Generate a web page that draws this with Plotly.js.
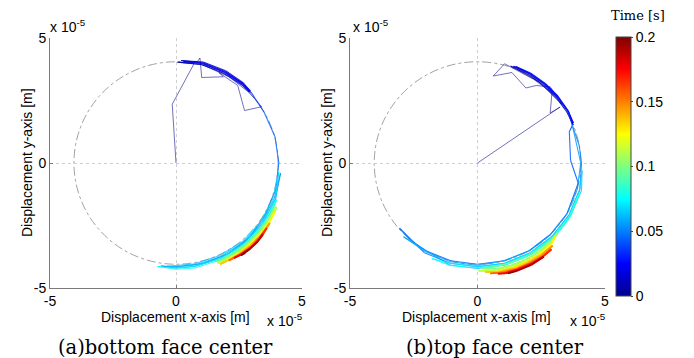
<!DOCTYPE html>
<html>
<head>
<meta charset="utf-8">
<script src="https://cdn.plot.ly/plotly-3.0.1.min.js"></script>
<style>html,body{margin:0;padding:0;background:#fff;}#chart{width:694px;height:358px;}</style>
</head>
<body>
<div id="chart"></div>
<script>
// ---- data (displacement in units of 1e-5 m, time in s) ----
const refRadius = 4.05;
const axisTicks = [-5, 0, 5];
const axisTickText = ['-5', '0', '5'];
const cbarTicks = [0, 0.05, 0.1, 0.15, 0.2];
const cbarTickText = ['0', '0.05', '0.1', '0.15', '0.2'];
const captions = ['(a)bottom face center', '(b)top face center'];

// (a) bottom face center
const leftX = [
  0, -0.15, 0.72, 0.05, 0.85, 0.95, 1.02, 1.88, 1.7, 2.45, 2.72, 3.4, 2.9, 2.1, 1.0, 0.1,
  1.05, 1.91, 2.62, 2.92,  2.66, 1.95, 1.07, 0.2,  1.08, 1.97, 2.68, 2.95,  2.65, 1.94, 1.06, 0.3,  1.06, 1.93, 2.64, 3.0,
  3.5, 3.93, 4.08, 3.96, 3.55, 2.95, 2.1, 1.08, 0, -0.6,
  0, 0.73, 1.78, 2.70, 3.44, 3.95, 4.15,
  3.90, 3.40, 2.67, 1.75, 0.72, 0, -0.36,
  0, 0.71, 1.73, 2.64, 3.36, 3.85, 4.08,
  3.95, 3.44, 2.70, 1.78, 0.73, 0, -0.73,
  0, 0.74, 1.8, 2.73, 3.48, 3.99,
  3.88, 3.60, 3.26, 2.84, 2.38, 1.86, 1.59,
  1.88, 2.40, 2.88, 3.29, 3.65, 3.93,
  4.0, 3.69, 3.33, 2.91, 2.43, 2.04, 1.65,
  2.04, 2.45, 2.93, 3.36, 3.72, 3.95,
  3.66, 3.39, 2.96, 2.47, 2.0, 1.75,
  2.21, 2.47, 2.96, 3.39, 3.72,
  3.45, 3.0, 2.5, 2.1,
  2.5, 2.95, 3.3, 3.6,
  3.35, 2.95, 2.55, 2.3,
  2.6, 2.92, 3.24, 3.45,
  3.24, 2.89, 2.58, 2.75
];
const leftY = [
  0, 2.35, 3.98, 4.03, 4.06, 4.2, 3.42, 3.45, 3.62, 3.1, 2.1, 2.25, 2.82, 3.45, 3.95, 4.03,
  3.93, 3.58, 3.12, 2.84,  3.17, 3.66, 4.01, 4.1,  4.04, 3.69, 3.2, 2.88,  3.17, 3.63, 3.97, 4.06,  3.99, 3.62, 3.15, 2.8,
  2.02, 1.05, 0, -1.06, -2.05, -2.95, -3.62, -4.02, -4.15, -4.12,
  -4.2, -4.14, -3.81, -3.22, -2.41, -1.44, -0.4,
  -1.42, -2.38, -3.18, -3.76, -4.09, -4.15, -4.13,
  -4.1, -4.04, -3.71, -3.14, -2.35, -1.40, -0.36,
  -1.44, -2.41, -3.22, -3.81, -4.14, -4.2, -4.14,
  -4.25, -4.2, -3.86, -3.26, -2.44, -1.46,
  -1.73, -2.25, -2.73, -3.16, -3.52, -3.82, -3.94,
  -3.87, -3.56, -3.19, -2.76, -2.28, -1.75,
  -1.79, -2.31, -2.80, -3.23, -3.61, -3.84, -4.02,
  -3.86, -3.63, -3.25, -2.82, -2.33, -1.9,
  -2.47, -2.84, -3.28, -3.66, -3.92, -4.05,
  -3.83, -3.66, -3.3, -2.86, -2.4,
  -2.87, -3.32, -3.68, -3.9,
  -3.7, -3.38, -3.0, -2.6,
  -3.0, -3.4, -3.67, -3.8,
  -3.66, -3.45, -3.13, -2.85,
  -3.15, -3.47, -3.69, -3.6
];
const leftT = [
  0, 0.0005, 0.001, 0.0015, 0.002, 0.0025, 0.003, 0.0035, 0.004, 0.0045, 0.005, 0.0055, 0.006, 0.0065, 0.007, 0.0075,
  0.008, 0.009, 0.010, 0.011,  0.012, 0.013, 0.014, 0.015,  0.016, 0.017, 0.018, 0.019,  0.020, 0.021, 0.022, 0.023,  0.024, 0.025, 0.026, 0.028,
  0.044, 0.0445, 0.045, 0.0455, 0.046, 0.0465, 0.047, 0.048, 0.049, 0.050,
  0.051, 0.052, 0.053, 0.054, 0.055, 0.0555, 0.056,
  0.057, 0.058, 0.059, 0.060, 0.061, 0.0615, 0.062,
  0.063, 0.064, 0.065, 0.066, 0.067, 0.0675, 0.068,
  0.069, 0.070, 0.071, 0.072, 0.073, 0.0735, 0.074,
  0.075, 0.076, 0.077, 0.078, 0.079, 0.080,
  0.082, 0.084, 0.086, 0.088, 0.090, 0.092, 0.094,
  0.096, 0.098, 0.100, 0.102, 0.104, 0.106,
  0.107, 0.108, 0.110, 0.111, 0.112, 0.113, 0.115,
  0.116, 0.118, 0.120, 0.122, 0.123, 0.125,
  0.127, 0.128, 0.130, 0.132, 0.134, 0.135,
  0.137, 0.138, 0.140, 0.142, 0.145,
  0.147, 0.150, 0.152, 0.155,
  0.157, 0.160, 0.162, 0.165,
  0.167, 0.170, 0.172, 0.175,
  0.177, 0.180, 0.182, 0.185,
  0.188, 0.192, 0.196, 0.200
];

// (b) top face center
const rightX = [
  0, 3.24, 2.85, 2.92, 2.2, 1.06, 0.62, 1.35, 1.9, 2.3, 2.85, 3.3, 2.4, 1.3,
  2.03, 2.60, 3.10, 3.51, 3.75,  3.57, 3.16, 2.65, 2.06, 1.41,  2.05, 2.63, 3.13, 3.55, 3.76,  3.55, 3.15, 2.66, 2.08, 1.5,  2.07, 2.64, 3.14, 3.56, 3.72,
  3.6, 3.65, 3.95, 3.51, 2.86, 2.03, 1.05, 0, -1.05, -2.03, -2.60, -3.06,
  -2.08, -1.07, 0, 1.07, 2.08, 2.93, 3.59, 4.01, 4.08, 3.99, 3.72,
  4.05, 3.91, 3.51, 2.86, 2.03, 1.05, 0, -1.05, -2.03, -2.9,
  -1.09, 0, 1.09, 2.11, 2.98, 3.65, 4.08, 4.1,
  4.01, 3.59, 2.93, 2.08, 1.07, 0, -1.07, -1.79,
  -1.07, 0, 1.07, 2.08, 2.96, 3.62, 4.0,
  3.6, 3.22, 2.81, 2.35, 1.84, 1.30, 0.73, 0.15,
  0.75, 1.33, 1.88, 2.40, 2.88, 3.15,
  2.83, 2.40, 1.88, 1.33, 0.75, 0.04,
  0.77, 1.36, 1.93, 2.46, 2.83, 3.05,
  2.88, 2.46, 1.93, 1.36, 0.77, 0.3,
  0.9, 1.5, 2.0, 2.5, 2.95,
  2.58, 2.11, 1.54, 1.0, 0.5,
  1.09, 1.54, 2.11, 2.6, 2.9,
  2.58, 2.11, 1.54, 1.09, 0.8,
  1.09, 1.54, 2.11, 2.6,
  2.11, 1.54, 1.2
];
const rightY = [
  0, 2.24, 2.0, 2.8, 3.35, 3.97, 3.48, 3.62, 3.0, 3.1, 3.05, 2.35, 3.25, 3.88,
  3.51, 3.10, 2.60, 2.03, 1.52,  2.06, 2.65, 3.16, 3.57, 3.87,  3.55, 3.14, 2.63, 2.05, 1.6,  2.1, 2.68, 3.18, 3.6, 3.86,  3.58, 3.16, 2.64, 2.06, 1.5,
  1.25, 0.1, -0.8, -2.03, -2.86, -3.51, -3.91, -4.05, -3.91, -3.51, -3.10, -2.61,
  -3.59, -4.01, -4.15, -4.01, -3.59, -2.93, -2.08, -1.07, 0, 0.7, 1.5,
  0, -1.05, -2.03, -2.86, -3.51, -3.91, -4.1, -3.95, -3.55, -2.95,
  -4.08, -4.22, -4.08, -3.65, -2.98, -2.11, -1.09, -0.3,
  -1.07, -2.08, -2.93, -3.59, -4.01, -4.15, -4.01, -3.82,
  -4.1, -4.2, -4.05, -3.62, -2.96, -2.1, -1.2,
  -2.2, -2.70, -3.12, -3.48, -3.78, -3.99, -4.14, -4.22,
  -4.23, -4.09, -3.87, -3.56, -3.19, -2.8,
  -3.2, -3.56, -3.9, -4.12, -4.28, -4.32,
  -4.33, -4.18, -3.95, -3.65, -3.37, -2.95,
  -3.25, -3.62, -3.95, -4.2, -4.35, -4.36,
  -4.35, -4.2, -3.98, -3.68, -3.3,
  -3.69, -3.97, -4.23, -4.37, -4.42,
  -4.37, -4.25, -4.0, -3.72, -3.45,
  -3.72, -4.02, -4.26, -4.4, -4.43,
  -4.42, -4.3, -4.05, -3.75,
  -4.08, -4.32, -4.42
];
const rightT = [
  0, 0.0005, 0.001, 0.0015, 0.002, 0.0025, 0.003, 0.0035, 0.004, 0.0045, 0.005, 0.0055, 0.006, 0.0065,
  0.008, 0.009, 0.010, 0.011, 0.012,  0.013, 0.014, 0.015, 0.016, 0.017,  0.018, 0.019, 0.020, 0.021, 0.022,  0.023, 0.024, 0.025, 0.026, 0.027,  0.028, 0.029, 0.030, 0.031, 0.032,
  0.042, 0.0425, 0.043, 0.0435, 0.044, 0.0445, 0.045, 0.0455, 0.046, 0.0465, 0.047, 0.0475,
  0.048, 0.0485, 0.049, 0.0495, 0.050, 0.0505, 0.051, 0.0515, 0.052, 0.0525, 0.053,
  0.054, 0.0545, 0.055, 0.0555, 0.056, 0.0565, 0.057, 0.0575, 0.058, 0.0585,
  0.059, 0.060, 0.061, 0.062, 0.063, 0.064, 0.065, 0.066,
  0.067, 0.068, 0.069, 0.070, 0.071, 0.072, 0.073, 0.074,
  0.075, 0.076, 0.077, 0.078, 0.079, 0.080, 0.081,
  0.083, 0.085, 0.087, 0.089, 0.091, 0.093, 0.095, 0.097,
  0.099, 0.101, 0.102, 0.103, 0.105, 0.106,
  0.107, 0.108, 0.110, 0.111, 0.113, 0.115,
  0.116, 0.118, 0.119, 0.121, 0.123, 0.125,
  0.126, 0.128, 0.130, 0.132, 0.134, 0.135,
  0.137, 0.139, 0.141, 0.143, 0.145,
  0.147, 0.150, 0.152, 0.154, 0.155,
  0.157, 0.159, 0.161, 0.163, 0.165,
  0.167, 0.170, 0.172, 0.174, 0.175,
  0.178, 0.181, 0.183, 0.185,
  0.190, 0.195, 0.200
];

// ---- styling ----
const tMax = 0.2;
const jetScale = [[0,'rgb(0,0,143)'],[0.125,'rgb(0,0,255)'],[0.375,'rgb(0,255,255)'],[0.625,'rgb(255,255,0)'],[0.875,'rgb(255,0,0)'],[1,'rgb(128,0,0)']];
function jet(v) {
  const idx = Math.max(0, Math.min(63, Math.floor(v * 64)));
  const u = (idx + 0.5) / 64;
  const c = w => Math.round(255 * Math.max(0, Math.min(1, 1.5 - Math.abs(4 * u - w))));
  return 'rgb(' + c(3) + ',' + c(2) + ',' + c(1) + ')';
}

const traces = [];
function addPath(X, Y, T, xa, ya) {
  for (let i = 0; i < X.length - 1; i++) {
    const tm = (T[i] + T[i + 1]) / 2;
    const early = T[i + 1] <= 0.0075;
    const late = tm > 0.08;
    traces.push({
      type: 'scatter', mode: 'lines', x: [X[i], X[i + 1]], y: [Y[i], Y[i + 1]],
      xaxis: xa, yaxis: ya, hoverinfo: 'skip', showlegend: false,
      opacity: early ? 0.7 : (late ? 1 : 0.85),
      line: {color: jet(tm / tMax), width: early ? 0.8 : (late ? 1.7 : 1.1)}
    });
  }
}
addPath(leftX, leftY, leftT, 'x', 'y');
addPath(rightX, rightY, rightT, 'x2', 'y2');

const sans = 'Liberation Sans, Arial, sans-serif';
const serif = 'DejaVu Serif, serif';

// colour bar carrier
traces.push({
  type: 'scatter', mode: 'markers', x: [0], y: [0], xaxis: 'x2', yaxis: 'y2',
  hoverinfo: 'skip', showlegend: false,
  marker: {size: 0.1, opacity: 0, color: [0], cmin: 0, cmax: tMax, colorscale: jetScale, showscale: true,
    colorbar: {x: 616 / 694, xanchor: 'left', xpad: 0, ypad: 0, y: (358 - 37) / 358, yanchor: 'top',
      len: 259, lenmode: 'pixels', thickness: 15, thicknessmode: 'pixels',
      outlinewidth: 1, outlinecolor: '#444',
      tickvals: cbarTicks, ticktext: cbarTickText, ticks: 'outside', ticklen: 2, tickcolor: '#444',
      tickfont: {family: sans, size: 14, color: '#000'}}}
});

const axFont = {family: sans, size: 14, color: '#000'};
function axis(domain, anchor) {
  return {domain: domain, anchor: anchor, range: [-5, 5], tickvals: axisTicks, ticktext: axisTickText,
    showgrid: true, gridcolor: '#cfcfcf', griddash: 'dot', gridwidth: 1, zeroline: false,
    showline: true, linecolor: '#7a7a7a', linewidth: 1, mirror: false,
    ticks: 'inside', ticklen: 3, tickcolor: '#7a7a7a', tickfont: axFont, fixedrange: true};
}
const yDom = [70 / 358, 320 / 358];

const ann = [];
function txt(text, x, y, opts) {
  ann.push(Object.assign({text: text, x: x / 694, y: 1 - y / 358, xref: 'paper', yref: 'paper',
    showarrow: false, xanchor: 'center', yanchor: 'middle', borderpad: 0, font: axFont}, opts || {}));
}
txt('Displacement y-axis [m]', 27, 163, {textangle: -90});
txt('Displacement y-axis [m]', 327, 163, {textangle: -90});
txt('Displacement x-axis [m]', 175, 316.5);
txt('Displacement x-axis [m]', 476, 316.5);
txt('x 10<sup>-5</sup>', 266, 320, {xanchor: 'left'});
txt('x 10<sup>-5</sup>', 569, 320, {xanchor: 'left'});
txt('x 10<sup>-5</sup>', 49, 26, {xanchor: 'left'});
txt('x 10<sup>-5</sup>', 352, 26, {xanchor: 'left'});
txt('Time [s]', 638, 15, {font: {family: serif, size: 13, color: '#000'}});
txt(captions[0], 165.5, 347, {font: {family: serif, size: 19.5, color: '#000'}});
txt(captions[1], 495, 347, {font: {family: serif, size: 19.5, color: '#000'}});

const circ = (xr, yr) => ({type: 'circle', xref: xr, yref: yr, x0: -refRadius, x1: refRadius,
  y0: -refRadius, y1: refRadius, layer: 'below', line: {color: '#8a8a8a', width: 0.8, dash: 'dashdot'}});

const layout = {
  width: 694, height: 358, margin: {l: 0, r: 0, t: 0, b: 0},
  paper_bgcolor: '#fff', plot_bgcolor: '#fff', showlegend: false,
  xaxis: axis([50 / 694, 302 / 694], 'y'),
  yaxis: axis(yDom, 'x'),
  xaxis2: axis([350 / 694, 605 / 694], 'y2'),
  yaxis2: axis(yDom, 'x2'),
  shapes: [circ('x', 'y'), circ('x2', 'y2')],
  annotations: ann
};
Plotly.newPlot('chart', traces, layout, {staticPlot: true, displayModeBar: false});
</script>
</body>
</html>
